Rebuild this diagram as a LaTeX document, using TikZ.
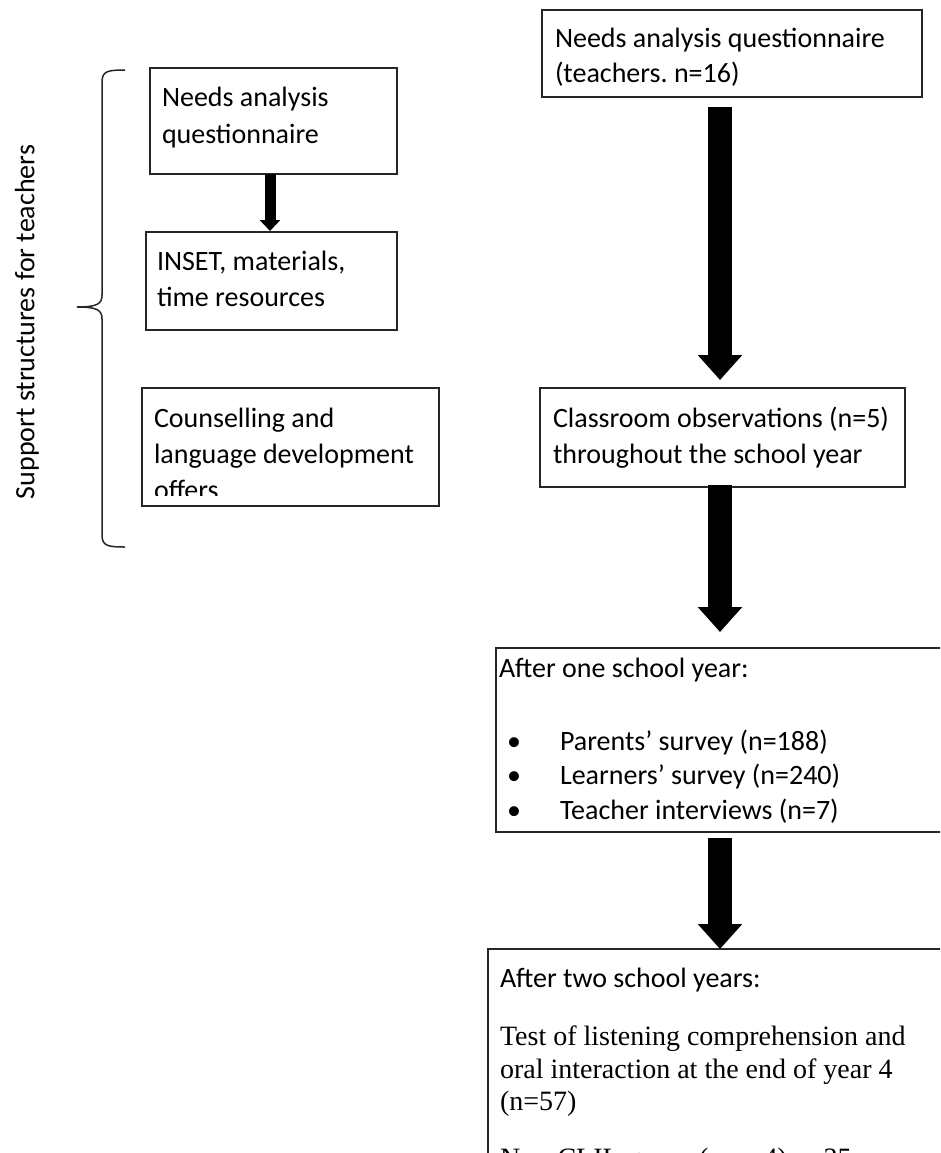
\documentclass[tikz,border=0pt]{standalone}
\usepackage{fontspec}
\setmainfont{Carlito}
\newfontfamily\tms{Liberation Serif}
\usetikzlibrary{arrows.meta}
\frenchspacing
\begin{document}
\begin{tikzpicture}[x=1pt,y=-1pt,
  box/.style={draw=black!85, line width=1.2pt, inner sep=0, outer sep=0, rectangle, anchor=north west},
  txt/.style={inner sep=0, outer sep=0, anchor=base west, font=\fontsize{28}{34}\selectfont},
  serif/.style={inner sep=0, outer sep=0, anchor=base west, font=\tms\fontsize{28}{33}\selectfont},
  bigarrow/.style={line width=24pt, -{Triangle[width=43pt,length=25pt]}},
  smallarrow/.style={line width=11pt, -{Triangle[width=20pt,length=11pt]}}]
\useasboundingbox (0,0) rectangle (940,1153);
\clip (0,0) rectangle (940,1153);
\fill[white] (0,0) rectangle (940,1153);

% left boxes
\node[box, minimum width=247pt, minimum height=106pt] (l1) at (150,68) {};
\node[box, minimum width=251pt, minimum height=98pt] (l2) at (146,232) {};
\node[box, minimum width=297pt, minimum height=118pt] (l3) at (142,388) {};
\node[txt] (l1a) at (162,107) {Needs analysis};
\node[txt] (l1b) at (162,143) {questionnaire};
\node[txt] (l2a) at (157,270) {INSET, materials,};
\node[txt] (l2b) at (157,306) {time resources};
\node[txt] (l3a) at (154,427) {Counselling and};
\node[txt] (l3b) at (154,463) {language development};
\begin{scope}
\clip (142,388) rectangle (439,495);
\node[txt] (l3c) at (154,499) {offers};
\end{scope}

% brace and label
\draw[line width=1.5pt, black!85] (125,70) .. controls (108,70) and (102,71) .. (102,82)
  -- (102,295) .. controls (102,304) and (97,307) .. (77,307)
  .. controls (97,307) and (102,310) .. (102,319)
  -- (102,535) .. controls (102,546) and (108,547) .. (125,547);
\node[rotate=90, inner sep=0, font=\fontsize{28}{34}\selectfont] (lbl) at (27,322) {Support structures for teachers};

% right boxes
\node[box, minimum width=380pt, minimum height=87pt] (r1) at (542,10) {};
\node[box, minimum width=365pt, minimum height=99pt] (r2) at (540,388) {};
\node[box, minimum width=480pt, minimum height=184pt] (r3) at (496,648) {};
\node[box, minimum width=480pt, minimum height=260pt] (r4) at (488,949) {};

\node[txt] (r1a) at (555,48) {Needs analysis questionnaire};
\node[txt] (r1b) at (555,83) {(teachers. n=16)};
\node[txt] (r2a) at (553,427) {Classroom observations (n=5)};
\node[txt] (r2b) at (553,463) {throughout the school year};
\node[txt] (r3a) at (499,677) {After one school year:};
\node[txt] (r3b0) at (507,750) {•};
\node[txt] (r3b) at (560,750) {Parents’ survey (n=188)};
\node[txt] (r3c0) at (507,784) {•};
\node[txt] (r3c) at (560,784) {Learners’ survey (n=240)};
\node[txt] (r3d0) at (507,819) {•};
\node[txt] (r3d) at (560,819) {Teacher interviews (n=7)};
\node[txt] (r4a) at (500,987) {After two school years:};
\node[serif] (r4b) at (500,1045) {Test of listening comprehension and};
\node[serif] (r4c) at (500,1078) {oral interaction at the end of year 4};
\node[serif] (r4d) at (500,1110) {(n=57)};
\node[serif] (r4e) at (500,1167) {Non-CLIL group (year 4) n=35};

% arrows
\coordinate (ax) at (720,0);
\coordinate (lx) at (270,0);
\draw[smallarrow] (l1.south -| lx) -- ([yshift=1pt]l2.north -| lx);
\draw[bigarrow] ([yshift=-10pt]r1.south -| ax) -- ([yshift=8pt]r2.north -| ax);
\draw[bigarrow] ([yshift=2pt]r2.south -| ax) -- ([yshift=16pt]r3.north -| ax);
\draw[bigarrow] ([yshift=-6pt]r3.south -| ax) -- (r4.north -| ax);
\end{tikzpicture}
\end{document}
